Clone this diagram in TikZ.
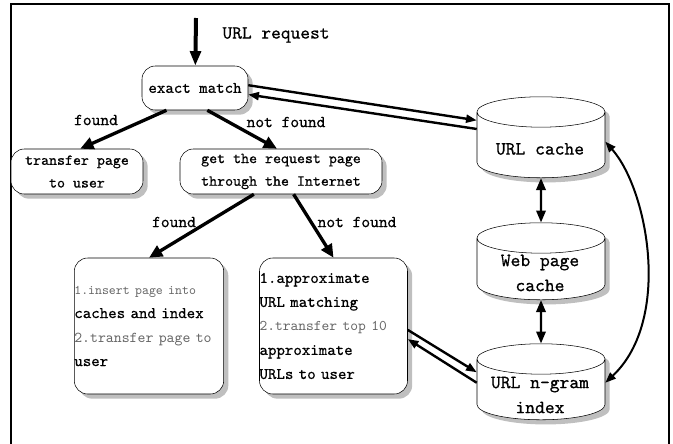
\documentclass[tikz,border=0pt]{standalone}
\usepackage{fontspec}
\newfontfamily\diagfont{lmmono10-regular}[Extension=.otf, FakeBold=0.6]
\newfontfamily\thinfont{lmmono10-regular}[Extension=.otf]
\usetikzlibrary{arrows.meta,shapes.geometric}

\begin{document}
\begin{tikzpicture}[x=0.75pt,y=0.75pt,yscale=-1,
    every node/.style={font=\diagfont\fontsize{11.4}{17}\selectfont},
    dropsh/.style={preaction={fill=black!25, draw=none, transform canvas={xshift=3.5pt, yshift=-3.5pt}}},
    box/.style={draw, dropsh, rounded corners=10pt, fill=white, align=center, inner sep=0pt},
    store/.style={draw, dropsh, cylinder, shape border rotate=90, aspect=0.24, fill=white,
        inner sep=0pt, text width=95pt, minimum width=96pt},
    storetext/.style={align=center, font=\diagfont\fontsize{14}{18.75}\selectfont},
    flow/.style={line width=2.5pt, -{Triangle[length=10pt,width=9pt]}},
    link/.style={line width=1.8pt, -{Triangle[length=8pt,width=6pt]}},
    both/.style={line width=1.8pt, {Triangle[length=9pt,width=7pt]}-{Triangle[length=9pt,width=7pt]}},
    tag/.style={font=\diagfont\fontsize{12.5}{14}\selectfont}]

    \useasboundingbox (0,0) rectangle (673,443);
    \draw[line width=1pt] (11,450) -- (11,4) -- (669,4) -- (669,450);

    \draw (196,18) coordinate (req);
    \draw (276,35) node [font=\diagfont\fontsize{13.9}{16}\selectfont] (reqlabel) {URL request};
    \draw (195,88) node [box, minimum width=79.5pt, minimum height=33pt, font=\diagfont\fontsize{12.1}{16}\selectfont] (exact) {exact match};
    \draw (77,171.5) node [box, minimum width=99pt, minimum height=33.75pt] (transfer) {transfer page\\to user};
    \draw (281,171.5) node [box, minimum width=151.5pt, minimum height=33.75pt] (getpage) {get the request page\\through the Internet};
    \draw (149,326) node [box, align=left, text width=112pt, minimum height=102pt, font=\diagfont\fontsize{12.1}{18}\selectfont] (insert)
        {{\color{black!60}\thinfont\fontsize{9.9}{18}\selectfont 1.insert page into}\\caches and index\\{\color{black!60}\thinfont\fontsize{11.3}{18}\selectfont 2.transfer page to}\\user};
    \draw (333.5,326) node [box, align=left, text width=111pt, minimum height=102pt, font=\diagfont\fontsize{12.1}{18}\selectfont] (approx)
        {1.approximate\\URL matching\\{\color{black!60}\thinfont\fontsize{11.1}{18}\selectfont 2.transfer top 10}\\approximate\\URLs to user};
    \draw (541,145) node [store, minimum height=60.75pt] (urlcache) {};
    \draw (541,269) node [store, minimum height=57.75pt] (webcache) {};
    \draw (541,389.5) node [store, minimum height=57pt] (ngram) {};
    \draw (540,149) node [storetext] (urlcachetext) {URL cache};
    \draw (540,273) node [storetext] (webcachetext) {Web page\\cache};
    \draw (540,395) node [storetext] (ngramtext) {URL n-gram\\index};
    \draw (96,120) node [tag] (found1) {found};
    \draw (286,122) node [tag] (notfound1) {not found};
    \draw (174,222) node [tag] (found2) {found};
    \draw (357,222) node [tag] (notfound2) {not found};

    \draw [line width=3pt, -{Triangle[length=11pt,width=8pt]}] (req) -- (exact);
    \draw [flow] (exact.218) -- (transfer.82);
    \draw [flow] (exact.299) -- (getpage.100);
    \draw [flow] (getpage.220) -- (insert.north);
    \draw [flow] (getpage.299) -- (approx.north);
    \draw [link] (exact.3) -- (urlcache.159);
    \draw [link] (urlcache.166) -- (exact.-7);
    \draw [both] (urlcache.south) -- (webcache.north);
    \draw [both] (webcache.south) -- (ngram.north);
    \draw [line width=1.5pt, {Triangle[length=8pt,width=6pt]}-{Triangle[length=8pt,width=6pt]}] (urlcache.3) .. controls (648,190) and (672,320) .. (ngram.6);
    \draw [link] (approx.-3) -- (ngram.165);
    \draw [link] (ngram.174) -- (approx.-10);

\end{tikzpicture}
\end{document}
